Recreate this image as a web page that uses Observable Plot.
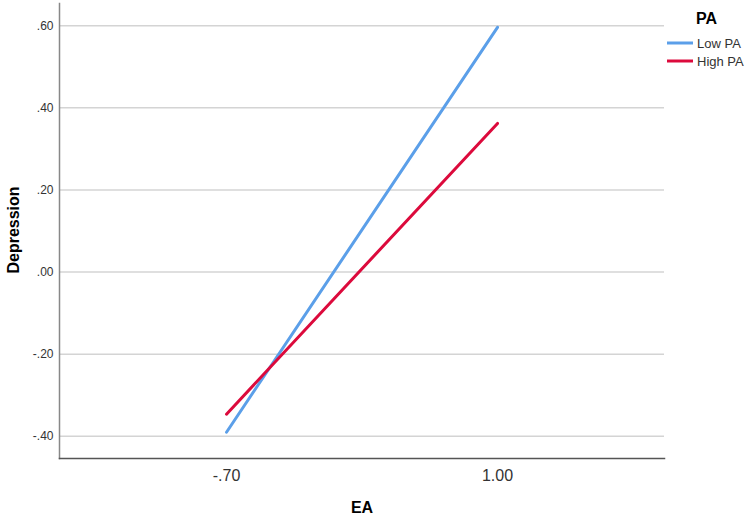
<!DOCTYPE html>
<html><head><meta charset="utf-8">
<script src="https://cdn.jsdelivr.net/npm/d3@7"></script>
<script src="https://cdn.jsdelivr.net/npm/@observablehq/plot@0.6"></script>
<style>body{margin:0;background:#fff;font-family:"Liberation Sans",Arial,sans-serif}</style>
</head><body><div id="chart"></div>
<script>
const eaLevels = ["-.70", "1.00"];
const paGroups = ["Low PA", "High PA"];
const lowPA = [-0.390, 0.596];
const highPA = [-0.346, 0.362];
const yTicks = [-0.4, -0.2, 0, 0.2, 0.4, 0.6];
const colors = ["#5b9fe9", "#dc0a3c"];
const xTitle = "EA";
const yTitle = "Depression";
const legendTitle = "PA";

const data = [
  ...eaLevels.map((e, i) => ({ea: e, dep: lowPA[i], pa: paGroups[0]})),
  ...eaLevels.map((e, i) => ({ea: e, dep: highPA[i], pa: paGroups[1]}))
];
const fmt = v => d3.format(".2f")(v).replace("\u2212", "-").replace(/^(-?)0\./, "$1.");

const chart = Plot.plot({
  width: 750, height: 518,
  marginLeft: 59, marginRight: 86, marginTop: 3, marginBottom: 60,
  style: {fontFamily: "Liberation Sans, Arial, sans-serif", background: "#fff"},
  x: {type: "point", domain: eaLevels, padding: 0.614},
  y: {domain: [-0.454, 0.654]},
  color: {domain: paGroups, range: colors},
  marks: [
    Plot.gridY(yTicks, {stroke: "#d4d4d4", strokeOpacity: 1, strokeWidth: 1.5}),
    Plot.axisY(yTicks, {tickSize: 0, tickPadding: 6, tickFormat: fmt, fontSize: 12, fill: "#333", label: null}),
    Plot.axisX({tickSize: 0, tickPadding: 11, fontSize: 16, fill: "#333", label: null}),
    Plot.frame({anchor: "left", stroke: "#888", strokeWidth: 1.5}),
    Plot.frame({anchor: "bottom", stroke: "#555", strokeWidth: 1.5}),
    Plot.line(data, {x: "ea", y: "dep", z: "pa", stroke: "pa", strokeWidth: 3})
  ]
});
document.getElementById("chart").appendChild(chart);

const svg = d3.select(chart);
const font = "Liberation Sans, Arial, sans-serif";
// axis titles
svg.append("text").attr("transform", "translate(13,230) rotate(-90)")
  .attr("text-anchor", "middle").attr("dy", "0.35em").attr("font-family", font)
  .attr("font-size", 16).attr("font-weight", "bold").attr("fill", "#000").text(yTitle);
svg.append("text").attr("x", 362).attr("y", 507)
  .attr("text-anchor", "middle").attr("dy", "0.35em").attr("font-family", font)
  .attr("font-size", 16).attr("font-weight", "bold").attr("fill", "#000").text(xTitle);

// legend
const lg = svg.append("g").attr("font-family", font).attr("text-anchor", "start");
lg.append("text").attr("x", 696).attr("y", 18).attr("dy", "0.35em")
  .attr("font-size", 16).attr("font-weight", "bold").attr("fill", "#000").text(legendTitle);
paGroups.forEach((g, i) => {
  const y = 43 + i * 18;
  lg.append("line").attr("x1", 667).attr("x2", 693).attr("y1", y).attr("y2", y)
    .attr("stroke", colors[i]).attr("stroke-width", 3);
  lg.append("text").attr("x", 697).attr("y", y).attr("dy", "0.35em")
    .attr("font-size", 13).attr("fill", "#333").text(g);
});
</script></body></html>
